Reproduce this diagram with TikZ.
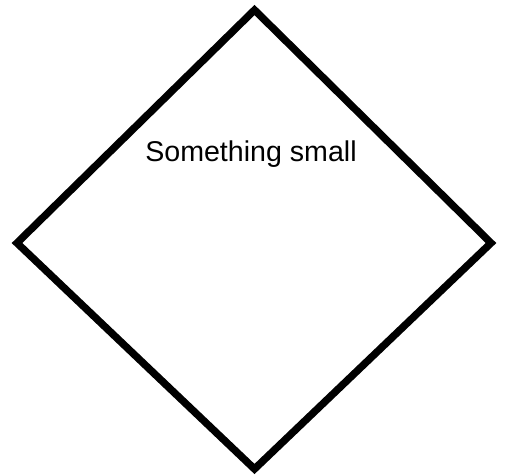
\documentclass[tikz,border=0pt]{standalone}
\usepackage{fontspec}
\setmainfont{Liberation Sans}
\begin{document}
\begin{tikzpicture}[x=1pt,y=1pt,
  shapeline/.style={draw=black,line width=7.4pt,line join=miter},
  lbl/.style={font=\fontsize{28.6}{34}\selectfont,inner sep=0pt,anchor=base}]
\useasboundingbox (0,0) rectangle (505,474);
\coordinate (t) at (254.5,464);
\coordinate (l) at (17,231);
\coordinate (r) at (491,231);
\coordinate (b) at (254.5,5);
\draw[shapeline] (t) -- (r) -- (b) -- (l) -- cycle;
\node[lbl] (txt) at (251,312) {Something small};
\end{tikzpicture}
\end{document}
